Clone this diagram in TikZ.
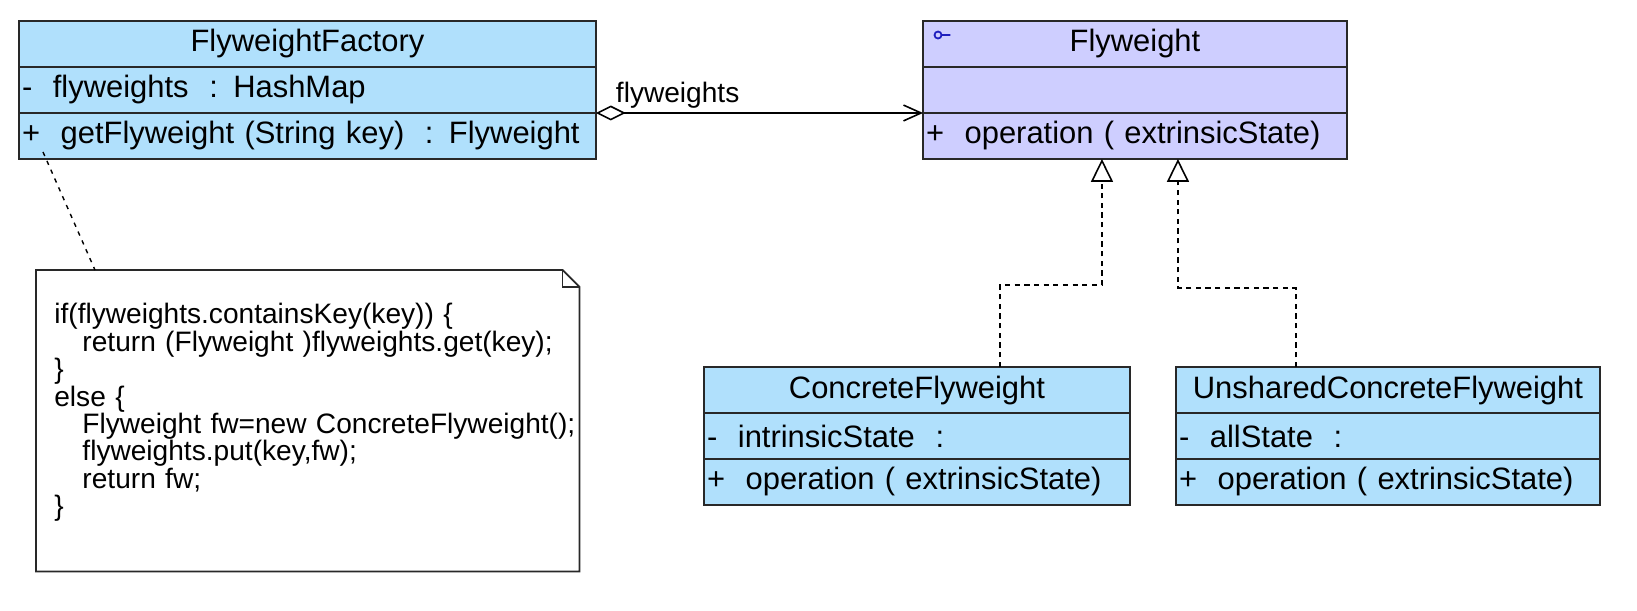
\documentclass[tikz,border=0pt]{standalone}
\usepackage{fontspec}
\setmainfont{Liberation Sans}
\usetikzlibrary{positioning, arrows.meta, calc}

\definecolor{ClassBlue}{RGB}{176,224,252}
\definecolor{IfaceLilac}{RGB}{206,206,255}
\definecolor{BorderGray}{RGB}{40,40,40}
\definecolor{IconBlue}{RGB}{30,30,190}

\newcommand{\umlfont}{\fontsize{17.6}{20}\selectfont}
\newcommand{\labelfont}{\fontsize{16}{19}\selectfont}
\newcommand{\notefont}{\fontsize{16}{15.6}\selectfont}
\newcommand{\codeindent}{\hspace*{16pt}}

\tikzset{
  classrow/.style={draw=BorderGray, line width=1.1pt, fill=ClassBlue, minimum height=0.92cm,
                   inner xsep=0.06cm, inner ysep=0pt, outer sep=0pt, font=\umlfont},
  classtitle/.style={classrow, align=center},
  classmember/.style={classrow, align=left},
  notebox/.style={inner xsep=0.36cm, inner ysep=0pt, text width=10.14cm,
                  text height=30.5pt, text depth=140.7pt, align=left, font=\notefont},
  realize/.style={draw=black, line width=0.9pt, dash pattern=on 3pt off 2.5pt,
                  -{Triangle[open, length=13pt, width=12.5pt]}},
  aggregate/.style={draw=black, line width=0.9pt,
                    {Diamond[open, length=17pt, width=8.5pt]}-{Straight Barb[length=10pt, width=9pt]}},
  noteline/.style={draw=black, line width=0.8pt, dash pattern=on 2.5pt off 3pt}
}

\begin{document}
\begin{tikzpicture}[x=0.02cm, y=-0.02cm]
    \useasboundingbox (0,0) rectangle (1637,610);

    % Factory class
    \node[classtitle, text width=11.42cm, anchor=north west] (ffTitle) at (19,21) {FlyweightFactory};
    \node[classmember, text width=11.42cm, below=0pt of ffTitle] (ffAttr) {-\ \ flyweights\ \ : HashMap};
    \node[classmember, text width=11.42cm, below=0pt of ffAttr] (ffOps) {+\ \ getFlyweight (String key)\ \ : Flyweight};

    % Flyweight interface
    \node[classtitle, fill=IfaceLilac, text width=8.36cm, anchor=north west] (fwTitle) at (923,21) {Flyweight};
    \node[classmember, fill=IfaceLilac, text width=8.36cm, below=0pt of fwTitle] (fwAttr) {};
    \node[classmember, fill=IfaceLilac, text width=8.36cm, below=0pt of fwAttr] (fwOps) {+\ \ operation ( extrinsicState)};
    \draw[IconBlue, line width=1pt] ([shift={(15,14)}]fwTitle.north west) circle (2pt)
        ++(2pt,0) -- ++(5pt,0);

    % Concrete classes
    \node[classtitle, text width=8.40cm, anchor=north west] (cfTitle) at (704,367) {ConcreteFlyweight};
    \node[classmember, text width=8.40cm, below=0pt of cfTitle] (cfAttr) {-\ \ intrinsicState\ \ :};
    \node[classmember, text width=8.40cm, below=0pt of cfAttr] (cfOps) {+\ \ operation ( extrinsicState)};

    \node[classtitle, text width=8.36cm, anchor=north west] (ucfTitle) at (1176,367) {UnsharedConcreteFlyweight};
    \node[classmember, text width=8.36cm, below=0pt of ucfTitle] (ucfAttr) {-\ \ allState\ \ :};
    \node[classmember, text width=8.36cm, below=0pt of ucfAttr] (ucfOps) {+\ \ operation ( extrinsicState)};

    % Note with the factory code
    \node[notebox, anchor=north west] (note) at (36,270) {if(flyweights.containsKey(key)) \{\\
        \codeindent return (Flyweight )flyweights.get(key);\\
        \}\\
        else \{\\
        \mbox{\codeindent Flyweight fw=new ConcreteFlyweight();}\\
        \codeindent flyweights.put(key,fw);\\
        \codeindent return fw;\\
        \}};
    \draw[BorderGray, line width=1pt] (note.north west) -- ([shift={(-17,0)}]note.north east)
        -- ([shift={(0,17)}]note.north east) -- (note.south east) -- (note.south west) -- cycle;
    \draw[BorderGray, line width=1pt] ([shift={(-17,0)}]note.north east) |- ([shift={(0,17)}]note.north east);

    % Connectors
    \coordinate (ffHook) at ([shift={(24,-7)}]ffOps.south west);
    \draw[noteline] (ffHook) -- ([shift={(59,0)}]note.north west);

    \draw[aggregate] (ffOps.north east) -- node[pos=0.25, above=-1pt, font=\labelfont] (aggLabel) {flyweights} (fwOps.north west);

    \draw[realize] ([shift={(83,0)}]cfTitle.north) |- ([shift={(-33,126)}]fwOps.south)
        -- ([shift={(-33,0)}]fwOps.south);
    \draw[realize] ([shift={(-92,0)}]ucfTitle.north) |- ([shift={(43,129)}]fwOps.south)
        -- ([shift={(43,0)}]fwOps.south);
\end{tikzpicture}
\end{document}
